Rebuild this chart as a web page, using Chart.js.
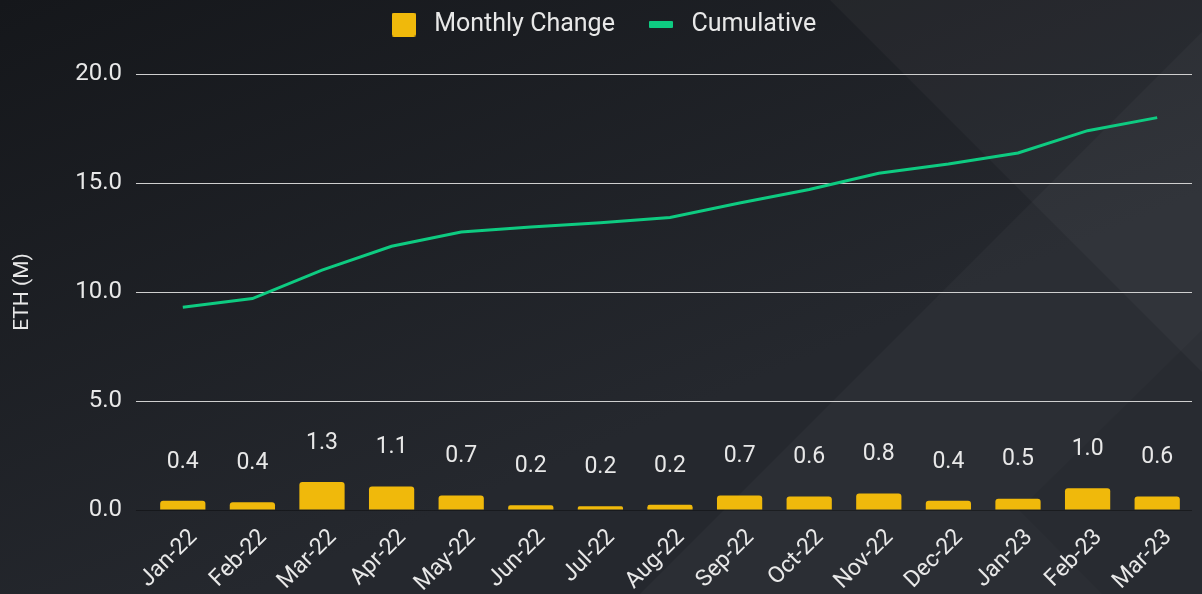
<!DOCTYPE html>
<html>
<head>
<meta charset="utf-8">
<script src="https://cdn.jsdelivr.net/npm/chart.js@4.4.0/dist/chart.umd.min.js"></script>
<style>
  html, body { margin: 0; padding: 0; background: #1d1f23; }
  #wrap { width: 1202px; height: 594px; position: relative; }
</style>
</head>
<body>
<div id="wrap"><canvas id="myChart"></canvas></div>
<script>
var months = ["Jan-22", "Feb-22", "Mar-22", "Apr-22", "May-22", "Jun-22", "Jul-22", "Aug-22",
              "Sep-22", "Oct-22", "Nov-22", "Dec-22", "Jan-23", "Feb-23", "Mar-23"];
var monthlyChange = [0.42, 0.36, 1.28, 1.08, 0.66, 0.22, 0.17, 0.24, 0.66, 0.62, 0.76, 0.42, 0.52, 1.0, 0.62];
var cumulative = [9.3, 9.7, 11.0, 12.1, 12.75, 12.98, 13.18, 13.42, 14.08, 14.7, 15.45, 15.87, 16.38, 17.4, 18.0];
var yTicks = [0, 5, 10, 15, 20];

var yellow = '#F0B90B';
var green = '#0ECB81';

// dark background with the diagonal light shapes
var bgPlugin = {
    id: 'bg',
    beforeDraw: function(chart) {
        var c = chart.ctx, w = chart.width, h = chart.height;
        c.save();
        var g = c.createLinearGradient(0, 0, 250, h);
        g.addColorStop(0, '#15171b');
        g.addColorStop(1, '#25282e');
        c.fillStyle = g;
        c.fillRect(0, 0, w, h);
        c.fillStyle = 'rgba(255,255,255,0.03)';
        c.beginPath();
        c.moveTo(640, h); c.lineTo(w, 32); c.lineTo(w, h); c.closePath();
        c.fill();
        c.beginPath();
        c.moveTo(830, 0); c.lineTo(w, 0); c.lineTo(w, 372); c.closePath();
        c.fill();
        c.fillStyle = 'rgba(0,0,0,0.05)';
        c.beginPath();
        c.moveTo(1019, 510); c.lineTo(w, 330); c.lineTo(w, h); c.lineTo(1102, h); c.closePath();
        c.fill();
        c.restore();
    }
};

// value labels above the bars
var barLabels = {
    id: 'barLabels',
    afterDatasetsDraw: function(chart) {
        var c = chart.ctx;
        var meta = chart.getDatasetMeta(0);
        c.save();
        c.font = '23px Roboto';
        c.fillStyle = '#e8e8e8';
        c.textAlign = 'center';
        c.textBaseline = 'middle';
        meta.data.forEach(function(bar, i) {
            c.fillText(monthlyChange[i].toFixed(1), bar.x, bar.y - 39);
        });
        c.restore();
    }
};

// extra room below the legend
var legendGap = {
    id: 'legendGap',
    beforeInit: function(chart) {
        var fit = chart.legend.fit;
        chart.legend.fit = function() {
            fit.bind(chart.legend)();
            this.height += 27;
        };
    }
};

function makeSwatch(w, h, color, r) {
    var cv = document.createElement('canvas');
    cv.width = w; cv.height = h;
    var x = cv.getContext('2d');
    x.fillStyle = color;
    x.beginPath();
    x.roundRect(0, 0, w, h, r);
    x.fill();
    return cv;
}
var swatches = [makeSwatch(24, 24, yellow, 2), makeSwatch(24, 7, green, 1)];

var ctx = document.getElementById("myChart").getContext("2d");
var myChart = new Chart(ctx, {
    data: {
        labels: months,
        datasets: [{
            type: 'bar',
            label: 'Monthly Change',
            data: monthlyChange,
            backgroundColor: yellow,
            borderRadius: 3,
            borderSkipped: 'bottom',
            barPercentage: 0.65,
            categoryPercentage: 1.0,
            order: 2
        }, {
            type: 'line',
            label: 'Cumulative',
            data: cumulative,
            borderColor: green,
            backgroundColor: green,
            borderWidth: 3,
            pointRadius: 0,
            tension: 0,
            order: 1
        }]
    },
    options: {
        responsive: true,
        maintainAspectRatio: false,
        animation: false,
        layout: { padding: { left: 10, right: 10, top: -16, bottom: 0 } },
        plugins: {
            tooltip: { enabled: false },
            legend: {
                position: 'top',
                labels: {
                    color: '#e8e8e8',
                    font: { family: 'Roboto', size: 25 },
                    usePointStyle: true,
                    pointStyleWidth: 36,
                    padding: 28,
                    generateLabels: function(chart) {
                        var items = Chart.defaults.plugins.legend.labels.generateLabels(chart);
                        items.sort(function(a, b) { return a.datasetIndex - b.datasetIndex; });
                        items.forEach(function(it) { it.pointStyle = swatches[it.datasetIndex]; });
                        return items;
                    }
                }
            }
        },
        scales: {
            x: {
                grid: { display: false },
                border: { display: false },
                afterFit: function(scale) { scale.height = 84; },
                ticks: {
                    color: '#e8e8e8',
                    font: { family: 'Roboto', size: 23 },
                    padding: 6,
                    labelOffset: 11,
                    maxRotation: 45,
                    minRotation: 45,
                    autoSkip: false
                }
            },
            y: {
                min: 0,
                max: 20,
                afterBuildTicks: function(axis) {
                    axis.ticks = yTicks.map(function(v) { return { value: v }; });
                },
                grid: {
                    color: function(c) { return c.tick && c.tick.value === 0 ? 'rgba(0,0,0,0.35)' : '#cfcfcf'; },
                    lineWidth: 1,
                    tickLength: 12
                },
                border: { display: false },
                ticks: {
                    color: '#e8e8e8',
                    font: { family: 'Roboto', size: 24 },
                    padding: 14,
                    callback: function(v) { return Number(v).toFixed(1); }
                },
                title: {
                    display: true,
                    text: 'ETH (M)',
                    color: '#e8e8e8',
                    font: { family: 'Roboto', size: 21 },
                    padding: { top: 0, bottom: 26 }
                }
            }
        }
    },
    plugins: [bgPlugin, barLabels, legendGap]
});
</script>
</body>
</html>
